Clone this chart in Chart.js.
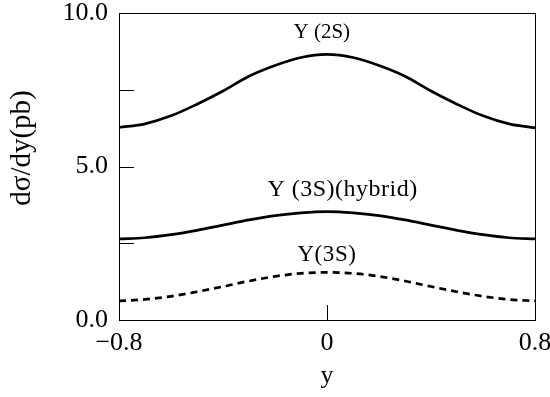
<!DOCTYPE html>
<html>
<head>
<meta charset="utf-8">
<script src="https://cdn.jsdelivr.net/npm/chart.js@4/dist/chart.umd.min.js"></script>
<style>
html,body{margin:0;padding:0;background:#fff;}
#wrap{width:550px;height:397px;}
</style>
</head>
<body>
<div id="wrap"><canvas id="c" width="550" height="397"></canvas></div>
<script>
const rapidity = [-0.8,-0.7,-0.6,-0.5,-0.4,-0.3,-0.2,-0.1,0,0.1,0.2,0.3,0.4,0.5,0.6,0.7,0.8];
const ups2S = [6.27,6.39,6.65,7.03,7.46,7.94,8.29,8.55,8.65,8.55,8.29,7.94,7.46,7.03,6.65,6.39,6.26];
const ups3SHybrid = [2.64,2.68,2.78,2.92,3.09,3.26,3.40,3.49,3.53,3.49,3.40,3.26,3.09,2.92,2.78,2.68,2.64];
const ups3S = [0.62,0.67,0.77,0.92,1.09,1.27,1.42,1.52,1.55,1.52,1.42,1.27,1.09,0.92,0.77,0.67,0.62];
const yTickLabels = {0:'0.0',5:'5.0',10:'10.0'};
const xTickLabels = {'-0.8':'\u22120.8','0':'0','0.8':'0.8'};
const curveLabels = [
  {text:'\u03A5 (2S)', x:-0.02, y:9.35, size:21, spacing:0},
  {text:'\u03A5 (3S)(hybrid)', x:0.06, y:4.23, size:24, spacing:0.5},
  {text:'\u03A5(3S)', x:0.0, y:2.12, size:23, spacing:0.6}
];
const serif = "'Liberation Serif', 'Times New Roman', serif";

function pts(vals){ return rapidity.map((r,i)=>({x:r,y:vals[i]})); }

const framePlugin = {
  id:'frame',
  afterDraw(chart){
    const ctx = chart.ctx, a = chart.chartArea;
    const xs = chart.scales.x, ys = chart.scales.y;
    ctx.save();
    ctx.strokeStyle = '#000';
    ctx.lineWidth = 1;
    ctx.strokeRect(Math.round(a.left)+0.5, Math.round(a.top)+0.5, Math.round(a.right-a.left), Math.round(a.bottom-a.top));
    const tl = 15;
    ys.ticks.forEach(t=>{
      const py = Math.round(ys.getPixelForValue(t.value))+0.5;
      ctx.beginPath(); ctx.moveTo(a.left, py); ctx.lineTo(a.left+tl, py); ctx.stroke();
    });
    xs.ticks.forEach(t=>{
      const px = Math.round(xs.getPixelForValue(t.value))+0.5;
      ctx.beginPath(); ctx.moveTo(px, a.bottom); ctx.lineTo(px, a.bottom-tl); ctx.stroke();
    });
    ctx.fillStyle = '#000';
    ctx.textAlign = 'center';
    ctx.textBaseline = 'middle';
    curveLabels.forEach(l=>{
      ctx.font = l.size + "px " + serif;
      ctx.letterSpacing = l.spacing + 'px';
      ctx.fillText(l.text, xs.getPixelForValue(l.x), ys.getPixelForValue(l.y));
    });
    ctx.letterSpacing = '0px';
    ctx.font = "26px " + serif;
    ctx.fillText('y', xs.getPixelForValue(0), 376);
    ctx.save();
    ctx.translate(22, 148);
    ctx.rotate(-Math.PI/2);
    ctx.font = "29px " + serif;
    ctx.fillText('d\u03C3/dy(pb)', 0, 0);
    ctx.restore();
    ctx.restore();
  }
};

function draw(){
new Chart(document.getElementById('c'), {
  type:'line',
  data:{
    datasets:[
      {label:'\u03A5 (2S)', data:pts(ups2S), borderColor:'#000', borderWidth:2.7, pointRadius:0, cubicInterpolationMode:'monotone', fill:false},
      {label:'\u03A5 (3S)(hybrid)', data:pts(ups3SHybrid), borderColor:'#000', borderWidth:2.7, pointRadius:0, cubicInterpolationMode:'monotone', fill:false},
      {label:'\u03A5(3S)', data:pts(ups3S), borderColor:'#000', borderWidth:2.7, borderDash:[7,5], pointRadius:0, cubicInterpolationMode:'monotone', fill:false}
    ]
  },
  options:{
    responsive:false,
    animation:false,
    devicePixelRatio:1,
    layout:{padding:{top:13,right:15,left:0,bottom:0}},
    plugins:{legend:{display:false}, tooltip:{enabled:false}},
    scales:{
      x:{
        type:'linear', min:-0.8, max:0.8,
        grid:{display:false, drawTicks:false},
        border:{display:false},
        ticks:{stepSize:0.8, padding:8, color:'#000', maxRotation:0, autoSkip:false,
          font:{family:serif, size:26},
          callback:(v)=>{ const k = String(Math.round(v*10)/10); return xTickLabels[k] ?? ''; }},
        afterFit:(s)=>{ s.height = 77; s.paddingLeft = 0; s.paddingRight = 0; }
      },
      y:{
        type:'linear', min:0, max:10,
        grid:{display:false, drawTicks:false},
        border:{display:false},
        ticks:{stepSize:2.5, padding:11, color:'#000', autoSkip:false,
          font:{family:serif, size:26},
          callback:(v)=> yTickLabels[v] ?? ''},
        afterFit:(s)=>{ s.width = 119; s.paddingTop = 0; s.paddingBottom = 0; }
      }
    }
  },
  plugins:[framePlugin]
});
}
if (document.fonts && document.fonts.load) {
  Promise.all([
    document.fonts.load('24px "Liberation Serif"'),
    document.fonts.load('24px "Times New Roman"')
  ]).then(draw, draw);
} else { draw(); }
</script>
</body>
</html>
